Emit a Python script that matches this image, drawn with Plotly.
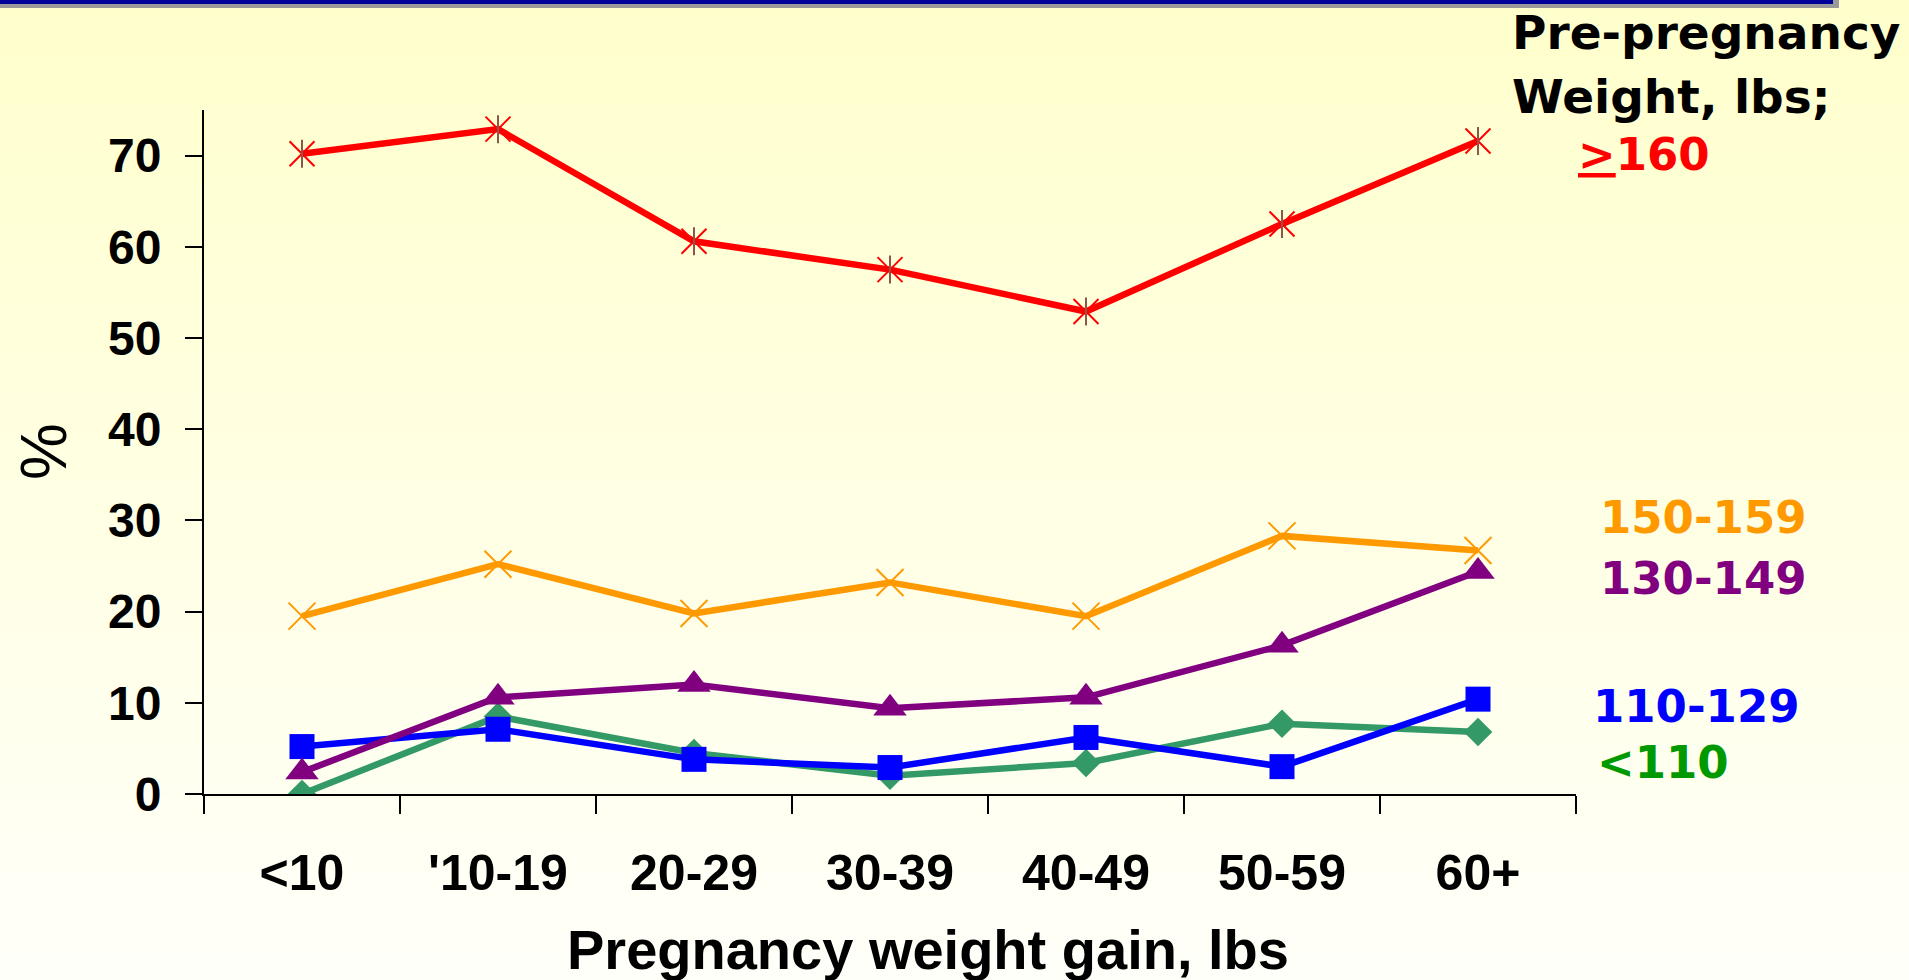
import plotly.graph_objects as go

# ---------------- data ----------------
categories = ["<10", "'10-19", "20-29", "30-39", "40-49", "50-59", "60+"]
y_tick_values = [0, 10, 20, 30, 40, 50, 60, 70]

wt_160_plus = [70.2, 72.9, 60.6, 57.5, 52.9, 62.5, 71.6]
wt_150_159 = [19.5, 25.2, 19.8, 23.2, 19.5, 28.3, 26.7]
wt_130_149 = [2.4, 10.6, 12.0, 9.4, 10.6, 16.3, 24.4]
wt_110_129 = [5.2, 7.1, 3.8, 2.9, 6.2, 3.0, 10.4]
wt_under_110 = [0.0, 8.5, 4.5, 2.0, 3.4, 7.7, 6.8]

series_names = ["<110", "110-129", "130-149", "150-159", ">=160"]

# ---------------- geometry helpers ----------------
W, H = 1909, 980
L, R = 204, 1576          # plot area left/right (px)
T, B = 110, 794           # plot area top/bottom (px)
PW, PH = R - L, B - T


def px(x):
    return (x - L) / PW


def py(y):
    return (B - y) / PH


LW = 6.5
fig = go.Figure()

# series: drawn bottom to top
fig.add_trace(go.Scatter(x=categories, y=wt_under_110, mode="lines+markers", name=series_names[0],
                         line=dict(color="#339966", width=LW),
                         marker=dict(symbol="diamond", size=22, color="#339966")))
fig.add_trace(go.Scatter(x=categories, y=wt_110_129, mode="lines+markers", name=series_names[1],
                         line=dict(color="#0000FF", width=LW),
                         marker=dict(symbol="square", size=25, color="#0000FF")))
fig.add_trace(go.Scatter(x=categories, y=wt_130_149, mode="lines+markers", name=series_names[2],
                         line=dict(color="#800080", width=LW),
                         marker=dict(symbol="triangle-up", size=29, color="#800080")))
fig.add_trace(go.Scatter(x=categories, y=wt_150_159, mode="lines+markers", name=series_names[3],
                         line=dict(color="#FF9900", width=LW),
                         marker=dict(symbol="x-thin-open", size=27,
                                     line=dict(color="#FF9900", width=2))))
fig.add_trace(go.Scatter(x=categories, y=wt_160_plus, mode="lines+markers", name=series_names[4],
                         line=dict(color="#FF0000", width=LW),
                         marker=dict(symbol="x-thin-open", size=25,
                                     line=dict(color="#FF0000", width=2))))
fig.add_trace(go.Scatter(x=categories, y=wt_160_plus, mode="markers", name=series_names[4],
                         showlegend=False,
                         marker=dict(symbol="line-ns-open", size=20,
                                     line=dict(color="#FF0000", width=2))))

# ---------------- background gradient & top banner ----------------
shapes = []
n_bands = 70
band_h = H / n_bands
for i in range(n_bands):
    y0 = i * band_h
    y1 = (i + 1) * band_h + 0.6
    t = (i + 0.5) / n_bands
    b = int(round(204 + (250 - 204) * t))
    col = "rgb(255,255,%d)" % b
    shapes.append(dict(type="rect", xref="paper", yref="paper", layer="below",
                       x0=px(0), x1=px(W), y0=py(y1), y1=py(y0),
                       fillcolor=col, line=dict(width=0)))
shapes.append(dict(type="rect", xref="paper", yref="paper", layer="above",
                   x0=px(0), x1=px(1839), y0=py(8), y1=py(0),
                   fillcolor="#999999", line=dict(width=0)))
shapes.append(dict(type="rect", xref="paper", yref="paper", layer="above",
                   x0=px(0), x1=px(1833), y0=py(4), y1=py(0),
                   fillcolor="#000099", line=dict(width=0)))

# ---------------- annotations ----------------
verdana = "DejaVu Sans"
arial = "Liberation Sans"
annotations = [
    dict(text="<b>Pre-pregnancy</b>", x=px(1510), y=py(33), xanchor="left", yanchor="middle",
         font=dict(family=verdana, size=47, color="#000000")),
    dict(text="<b>Weight, lbs;</b>", x=px(1510), y=py(96), xanchor="left", yanchor="middle",
         font=dict(family=verdana, size=47, color="#000000")),
    dict(text="<b><u>></u>160</b>", x=px(1576), y=py(154), xanchor="left", yanchor="middle",
         font=dict(family=verdana, size=45, color="#FF0000")),
    dict(text="<b>150-159</b>", x=px(1598), y=py(517), xanchor="left", yanchor="middle",
         font=dict(family=verdana, size=45, color="#FF9900")),
    dict(text="<b>130-149</b>", x=px(1598), y=py(578), xanchor="left", yanchor="middle",
         font=dict(family=verdana, size=45, color="#800080")),
    dict(text="<b>110-129</b>", x=px(1591), y=py(706), xanchor="left", yanchor="middle",
         font=dict(family=verdana, size=45, color="#0000FF")),
    dict(text="<b><110</b>", x=px(1595), y=py(762), xanchor="left", yanchor="middle",
         font=dict(family=verdana, size=45, color="#009900")),
    dict(text="<b>Pregnancy weight gain, lbs</b>", x=px(928), y=py(949), xanchor="center", yanchor="middle",
         font=dict(family=arial, size=56, color="#000000")),
    dict(text="%", x=px(44), y=py(452), xanchor="center", yanchor="middle", textangle=-90,
         font=dict(family=arial, size=64, color="#000000")),
]
for a in annotations:
    a.update(xref="paper", yref="paper", showarrow=False)

fig.update_layout(
    template="none",
    width=W, height=H,
    margin=dict(l=L, r=W - R, t=T, b=H - B, pad=0),
    paper_bgcolor="#FFFFFF",
    plot_bgcolor="rgba(0,0,0,0)",
    showlegend=False,
    shapes=shapes,
    annotations=annotations,
    xaxis=dict(type="category", categoryorder="array", categoryarray=categories,
               range=[-0.5, len(categories) - 0.5], tickson="boundaries",
               showgrid=False, zeroline=False, showline=True, linecolor="#000000", linewidth=2,
               ticks="outside", ticklen=18, tickwidth=2, tickcolor="#000000",
               ticklabelstandoff=34,
               tickfont=dict(family=arial, size=50, color="#000000", weight="bold"),
               automargin=False, fixedrange=True),
    yaxis=dict(range=[0, 75], tickvals=y_tick_values, ticktext=[str(v) for v in y_tick_values],
               showgrid=False, zeroline=False, showline=True, linecolor="#000000", linewidth=2,
               ticks="outside", ticklen=17, tickwidth=2, tickcolor="#000000",
               ticklabelstandoff=14,
               tickfont=dict(family=arial, size=48, color="#000000", weight="bold"),
               automargin=False, fixedrange=True),
)

# remove the browser's default 8px page margin so the figure fills the window exactly
fig.write_html("out.html", config={"displayModeBar": False},
               post_script="document.body.style.margin='0';")
